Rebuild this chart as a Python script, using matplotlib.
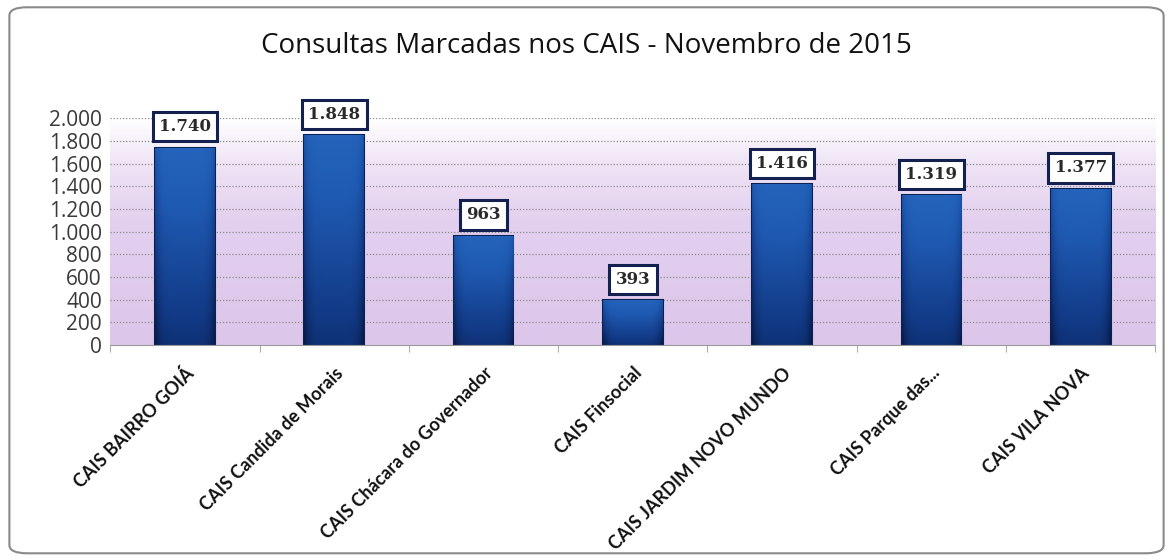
import numpy as np
import matplotlib.pyplot as plt
from matplotlib.patches import FancyBboxPatch
from matplotlib.colors import LinearSegmentedColormap
from matplotlib.ticker import FuncFormatter, FixedLocator

unidades = ['CAIS BAIRRO GOIÁ', 'CAIS Candida de Morais', 'CAIS Chácara do Governador',
            'CAIS Finsocial', 'CAIS JARDIM NOVO MUNDO', 'CAIS Parque das...', 'CAIS VILA NOVA']
consultas = [1740, 1848, 963, 393, 1416, 1319, 1377]
rotulos = ['1.740', '1.848', '963', '393', '1.416', '1.319', '1.377']
yticks = [0, 200, 400, 600, 800, 1000, 1200, 1400, 1600, 1800, 2000]

fig = plt.figure(figsize=(11.73, 5.6), dpi=100)
fig.patch.set_facecolor('white')

# outer chart frame
frame = FancyBboxPatch((0.008, 0.012), 0.984, 0.975, boxstyle='round,pad=0,rounding_size=0.015',
                       transform=fig.transFigure, fill=False, edgecolor='#8a8a8a', linewidth=1.5)
fig.patches.append(frame)

ax = fig.add_axes([0.094, 0.384, 0.891, 0.405])
n = len(unidades)
x = np.arange(n)
ax.set_xlim(-0.5, n - 0.5)
ax.set_ylim(0, 2000)

# lavender gradient background
grad = np.linspace(0, 1, 256).reshape(-1, 1)
cmap_bg = LinearSegmentedColormap.from_list('bg', [(0, '#dcc6ea'), (0.55, '#e3d0ef'),
                                                   (0.8, '#efe4f5'), (1, '#ffffff')])
ax.imshow(grad, aspect='auto', cmap=cmap_bg, origin='lower',
          extent=[-0.5, n - 0.5, 0, 2000], zorder=0)

for t in yticks[1:]:
    ax.axhline(t, color='#8c8c8c', linestyle=(0, (1, 1.5)), linewidth=0.9, zorder=1)

bars = ax.bar(x, consultas, width=0.4, color='#1c4a96', edgecolor='#0b2152', linewidth=1.5, zorder=2)

# bar shading: light at top, dark at bottom, darker edges
yy = np.linspace(0, 1, 100).reshape(-1, 1)
xx = np.linspace(-1, 1, 60).reshape(1, -1)
shade = 0.25 + 0.6 * yy - 0.25 * xx ** 6
cmap_bar = LinearSegmentedColormap.from_list('bar', ['#071a48', '#123a86', '#1f5ab2', '#2a6cc4'])
for b in bars:
    im = ax.imshow(shade, aspect='auto', cmap=cmap_bar, origin='lower', vmin=0, vmax=1,
                   extent=[b.get_x(), b.get_x() + b.get_width(), 0, b.get_height()], zorder=2.5)
    im.set_clip_path(b)

for xi, v, lab in zip(x, consultas, rotulos):
    ax.annotate(lab, (xi, v), xytext=(0, 9), textcoords='offset points', ha='center', va='bottom',
                fontsize=12, family='DejaVu Serif', fontweight='bold', color='#2a2a2a', zorder=4,
                bbox=dict(boxstyle='square,pad=0.38', fc='white', ec='#14204f', lw=2.2))

ax.set_yticks(yticks)
ax.yaxis.set_major_formatter(FuncFormatter(lambda v, p: f'{int(v):,}'.replace(',', '.')))
ax.tick_params(axis='y', length=0, labelsize=15, pad=6, labelcolor='#3a3a3a')
ax.set_xticks(x)
ax.set_xticklabels(unidades, rotation=45, ha='right', rotation_mode='anchor',
                   fontsize=13, family='Lato', fontweight='bold')
ax.tick_params(axis='x', which='major', length=0, pad=14, labelcolor='#111111')
ax.xaxis.set_minor_locator(FixedLocator(np.arange(n + 1) - 0.5))
ax.tick_params(axis='x', which='minor', length=5, color='#999999')
for lab in ax.get_yticklabels():
    lab.set_family('Open Sans')

for s in ['top', 'right', 'left']:
    ax.spines[s].set_visible(False)
ax.spines['bottom'].set_color('#999999')

fig.text(0.5, 0.918, 'Consultas Marcadas nos CAIS - Novembro de 2015', ha='center', va='center',
         fontsize=20, family='Open Sans', color='#111111')

plt.savefig('out.png', dpi=100)
plt.close()
